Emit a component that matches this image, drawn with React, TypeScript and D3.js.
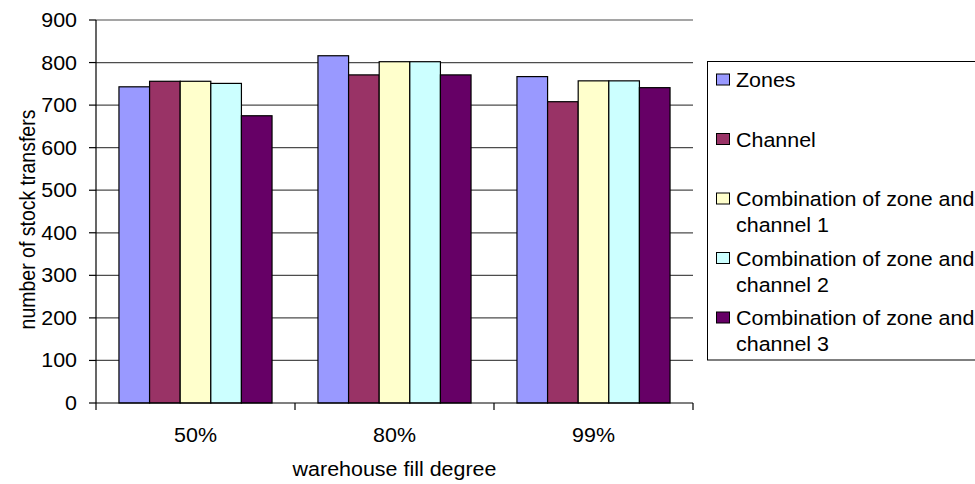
import React from "react";
import * as d3 from "d3";

// Warehouse fill degree categories and the stock transfer counts per strategy
const categories = ["50%", "80%", "99%"];
const seriesNames = [
  "Zones",
  "Channel",
  "Combination of zone and channel 1",
  "Combination of zone and channel 2",
  "Combination of zone and channel 3",
];
const legendLines = [
  ["Zones"],
  ["Channel"],
  ["Combination of zone and", "channel 1"],
  ["Combination of zone and", "channel 2"],
  ["Combination of zone and", "channel 3"],
];
const zones = [743, 816, 767];
const channel = [756, 771, 708];
const combo1 = [756, 802, 757];
const combo2 = [751, 802, 757];
const combo3 = [675, 771, 741];
const seriesValues = [zones, channel, combo1, combo2, combo3];
const seriesColors = ["#9999FF", "#993366", "#FFFFCC", "#CCFFFF", "#660066"];
const yTicks = [0, 100, 200, 300, 400, 500, 600, 700, 800, 900];

const W = 975;
const H = 484;
const plot = { left: 96, right: 693, top: 20, bottom: 403 };
const FONT = "'Liberation Sans', Arial, sans-serif";
const FS = 19.5;
const SX = 1.1; // slight horizontal widening of the lettering

export default function App() {
  const x0 = d3
    .scaleBand<string>()
    .domain(categories)
    .range([plot.left, plot.right])
    .paddingInner(0)
    .paddingOuter(0);
  const x1 = d3
    .scaleBand<string>()
    .domain(seriesNames)
    .range([0, x0.bandwidth()])
    .paddingInner(0)
    .paddingOuter(0.75);
  const y = d3.scaleLinear().domain([0, 900]).range([plot.bottom, plot.top]);

  const boundaries = categories
    .map((c) => x0(c) as number)
    .concat([plot.right]);

  const legendTop = 80;
  const legendStep = 59.5;
  const lineH = 26;

  return (
    <svg
      width={W}
      height={H}
      style={{ position: "absolute", left: 0, top: 0, background: "#fff" }}
      fontFamily={FONT}
    >
      <rect x={0} y={0} width={W} height={H} fill="#fff" />

      {/* gridlines */}
      {yTicks
        .filter((t) => t > 0)
        .map((t) => (
          <line
            key={"g" + t}
            x1={plot.left}
            x2={plot.right}
            y1={y(t)}
            y2={y(t)}
            stroke="#4d4d4d"
            strokeWidth={1.2}
          />
        ))}

      {/* bars */}
      {seriesValues.map((vals, si) =>
        categories.map((c, ci) => {
          const bx = (x0(c) as number) + (x1(seriesNames[si]) as number);
          return (
            <rect
              key={`b${si}-${ci}`}
              x={bx}
              y={y(vals[ci])}
              width={x1.bandwidth()}
              height={y(0) - y(vals[ci])}
              fill={seriesColors[si]}
              stroke="#000"
              strokeWidth={1.2}
            />
          );
        })
      )}

      {/* axes */}
      <line x1={plot.left} x2={plot.left} y1={plot.top} y2={plot.bottom} stroke="#000" strokeWidth={1.2} />
      <line x1={plot.left} x2={plot.right} y1={plot.bottom} y2={plot.bottom} stroke="#000" strokeWidth={1.2} />
      {yTicks.map((t) => (
        <g key={"yt" + t}>
          <line x1={plot.left - 7} x2={plot.left} y1={y(t)} y2={y(t)} stroke="#000" strokeWidth={1.2} />
          <g transform={`translate(${plot.left - 19},${y(t)}) scale(${SX},1)`}>
            <text textAnchor="end" dy="0.36em" fontSize={FS} fill="#000">
              {t}
            </text>
          </g>
        </g>
      ))}
      {boundaries.map((bx, i) => (
        <line key={"xt" + i} x1={bx} x2={bx} y1={plot.bottom} y2={plot.bottom + 7} stroke="#000" strokeWidth={1.2} />
      ))}
      {categories.map((c) => (
        <g key={"xl" + c} transform={`translate(${(x0(c) as number) + x0.bandwidth() / 2},442) scale(${SX},1)`}>
          <text textAnchor="middle" fontSize={FS} fill="#000">
            {c}
          </text>
        </g>
      ))}

      {/* axis titles */}
      <g transform={`translate(${(plot.left + plot.right) / 2},476) scale(${SX},1)`}>
        <text textAnchor="middle" fontSize={FS} fill="#000">
          warehouse fill degree
        </text>
      </g>
      <g transform={`translate(35,${(plot.top + plot.bottom) / 2 + 8}) scale(${SX},1) rotate(-90)`}>
        <text textAnchor="middle" fontSize={FS} fill="#000">
          number of stock transfers
        </text>
      </g>

      {/* legend */}
      <rect x={707.5} y={61.5} width={290} height={298.5} fill="#fff" stroke="#000" strokeWidth={1} />
      {legendLines.map((lines, i) => {
        const cy = legendTop + i * legendStep;
        return (
          <g key={"lg" + i}>
            <rect x={716.5} y={cy - 6} width={13} height={11} fill={seriesColors[i]} stroke="#000" strokeWidth={1} />
            {lines.map((ln, li) => (
              <g key={li} transform={`translate(736,${cy + li * lineH}) scale(${SX},1)`}>
                <text dy="0.36em" fontSize={FS} fill="#000">
                  {ln}
                </text>
              </g>
            ))}
          </g>
        );
      })}
    </svg>
  );
}
